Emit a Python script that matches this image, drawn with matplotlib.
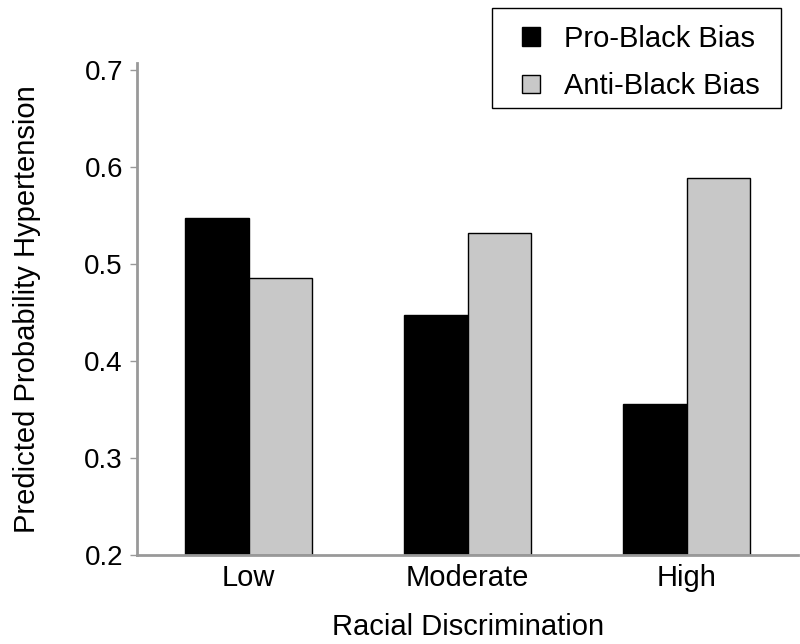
import matplotlib.pyplot as plt
from matplotlib.patches import Rectangle
import numpy as np

plt.rcParams['font.family'] = ['Liberation Sans', 'DejaVu Sans']
plt.rcParams.update({'font.size': 20})

# data
groups = ["Low", "Moderate", "High"]
pro_black = [0.547, 0.447, 0.356]
anti_black = [0.486, 0.532, 0.589]
yticks = [0.2, 0.3, 0.4, 0.5, 0.6, 0.7]

fig = plt.figure(figsize=(8, 6.44), dpi=100)
ax = fig.add_axes([0.171, 0.138, 0.827, 0.764])

x = np.arange(len(groups))
w = 0.29
ax.bar(x - w, np.array(pro_black) - 0.2, w, bottom=0.2, align="edge",
       color="black", edgecolor="black", lw=1, label="Pro-Black Bias")
ax.bar(x, np.array(anti_black) - 0.2, w, bottom=0.2, align="edge",
       color="#c8c8c8", edgecolor="black", lw=1, label="Anti-Black Bias")

ax.set_xlim(-0.51, 2.51)
ax.set_ylim(0.2, 0.707)
ax.set_xticks(x)
ax.set_xticklabels(groups)
ax.set_yticks(yticks)
ax.set_yticklabels([f"{v:.1f}" for v in yticks])
ax.tick_params(axis="x", length=0, pad=6.5, labelsize=21)
ax.tick_params(axis="y", length=5, width=1, color="#999999", pad=5, labelsize=20)

for s in ["top", "right"]:
    ax.spines[s].set_visible(False)
for s in ["left", "bottom"]:
    ax.spines[s].set_color("#999999")
    ax.spines[s].set_linewidth(2)

ax.set_xlabel("Racial Discrimination", labelpad=15, fontsize=21)
ax.set_ylabel("Predicted Probability Hypertension", labelpad=31, fontsize=21)

# legend box drawn separately so the padding can match
W, H = 800, 644
fig.patches.append(Rectangle((492 / W, 1 - 108 / H), 289 / W, 100 / H,
                             transform=fig.transFigure, facecolor="white",
                             edgecolor="black", lw=1))
leg = fig.legend(loc="upper left", bbox_to_anchor=(522 / W, 1 - 25 / H),
                 frameon=False, fontsize=21,
                 handlelength=0.6, handleheight=0.6, handletextpad=0.85,
                 borderpad=0, labelspacing=0.66, borderaxespad=0)

fig.savefig("out.png", dpi=100)
